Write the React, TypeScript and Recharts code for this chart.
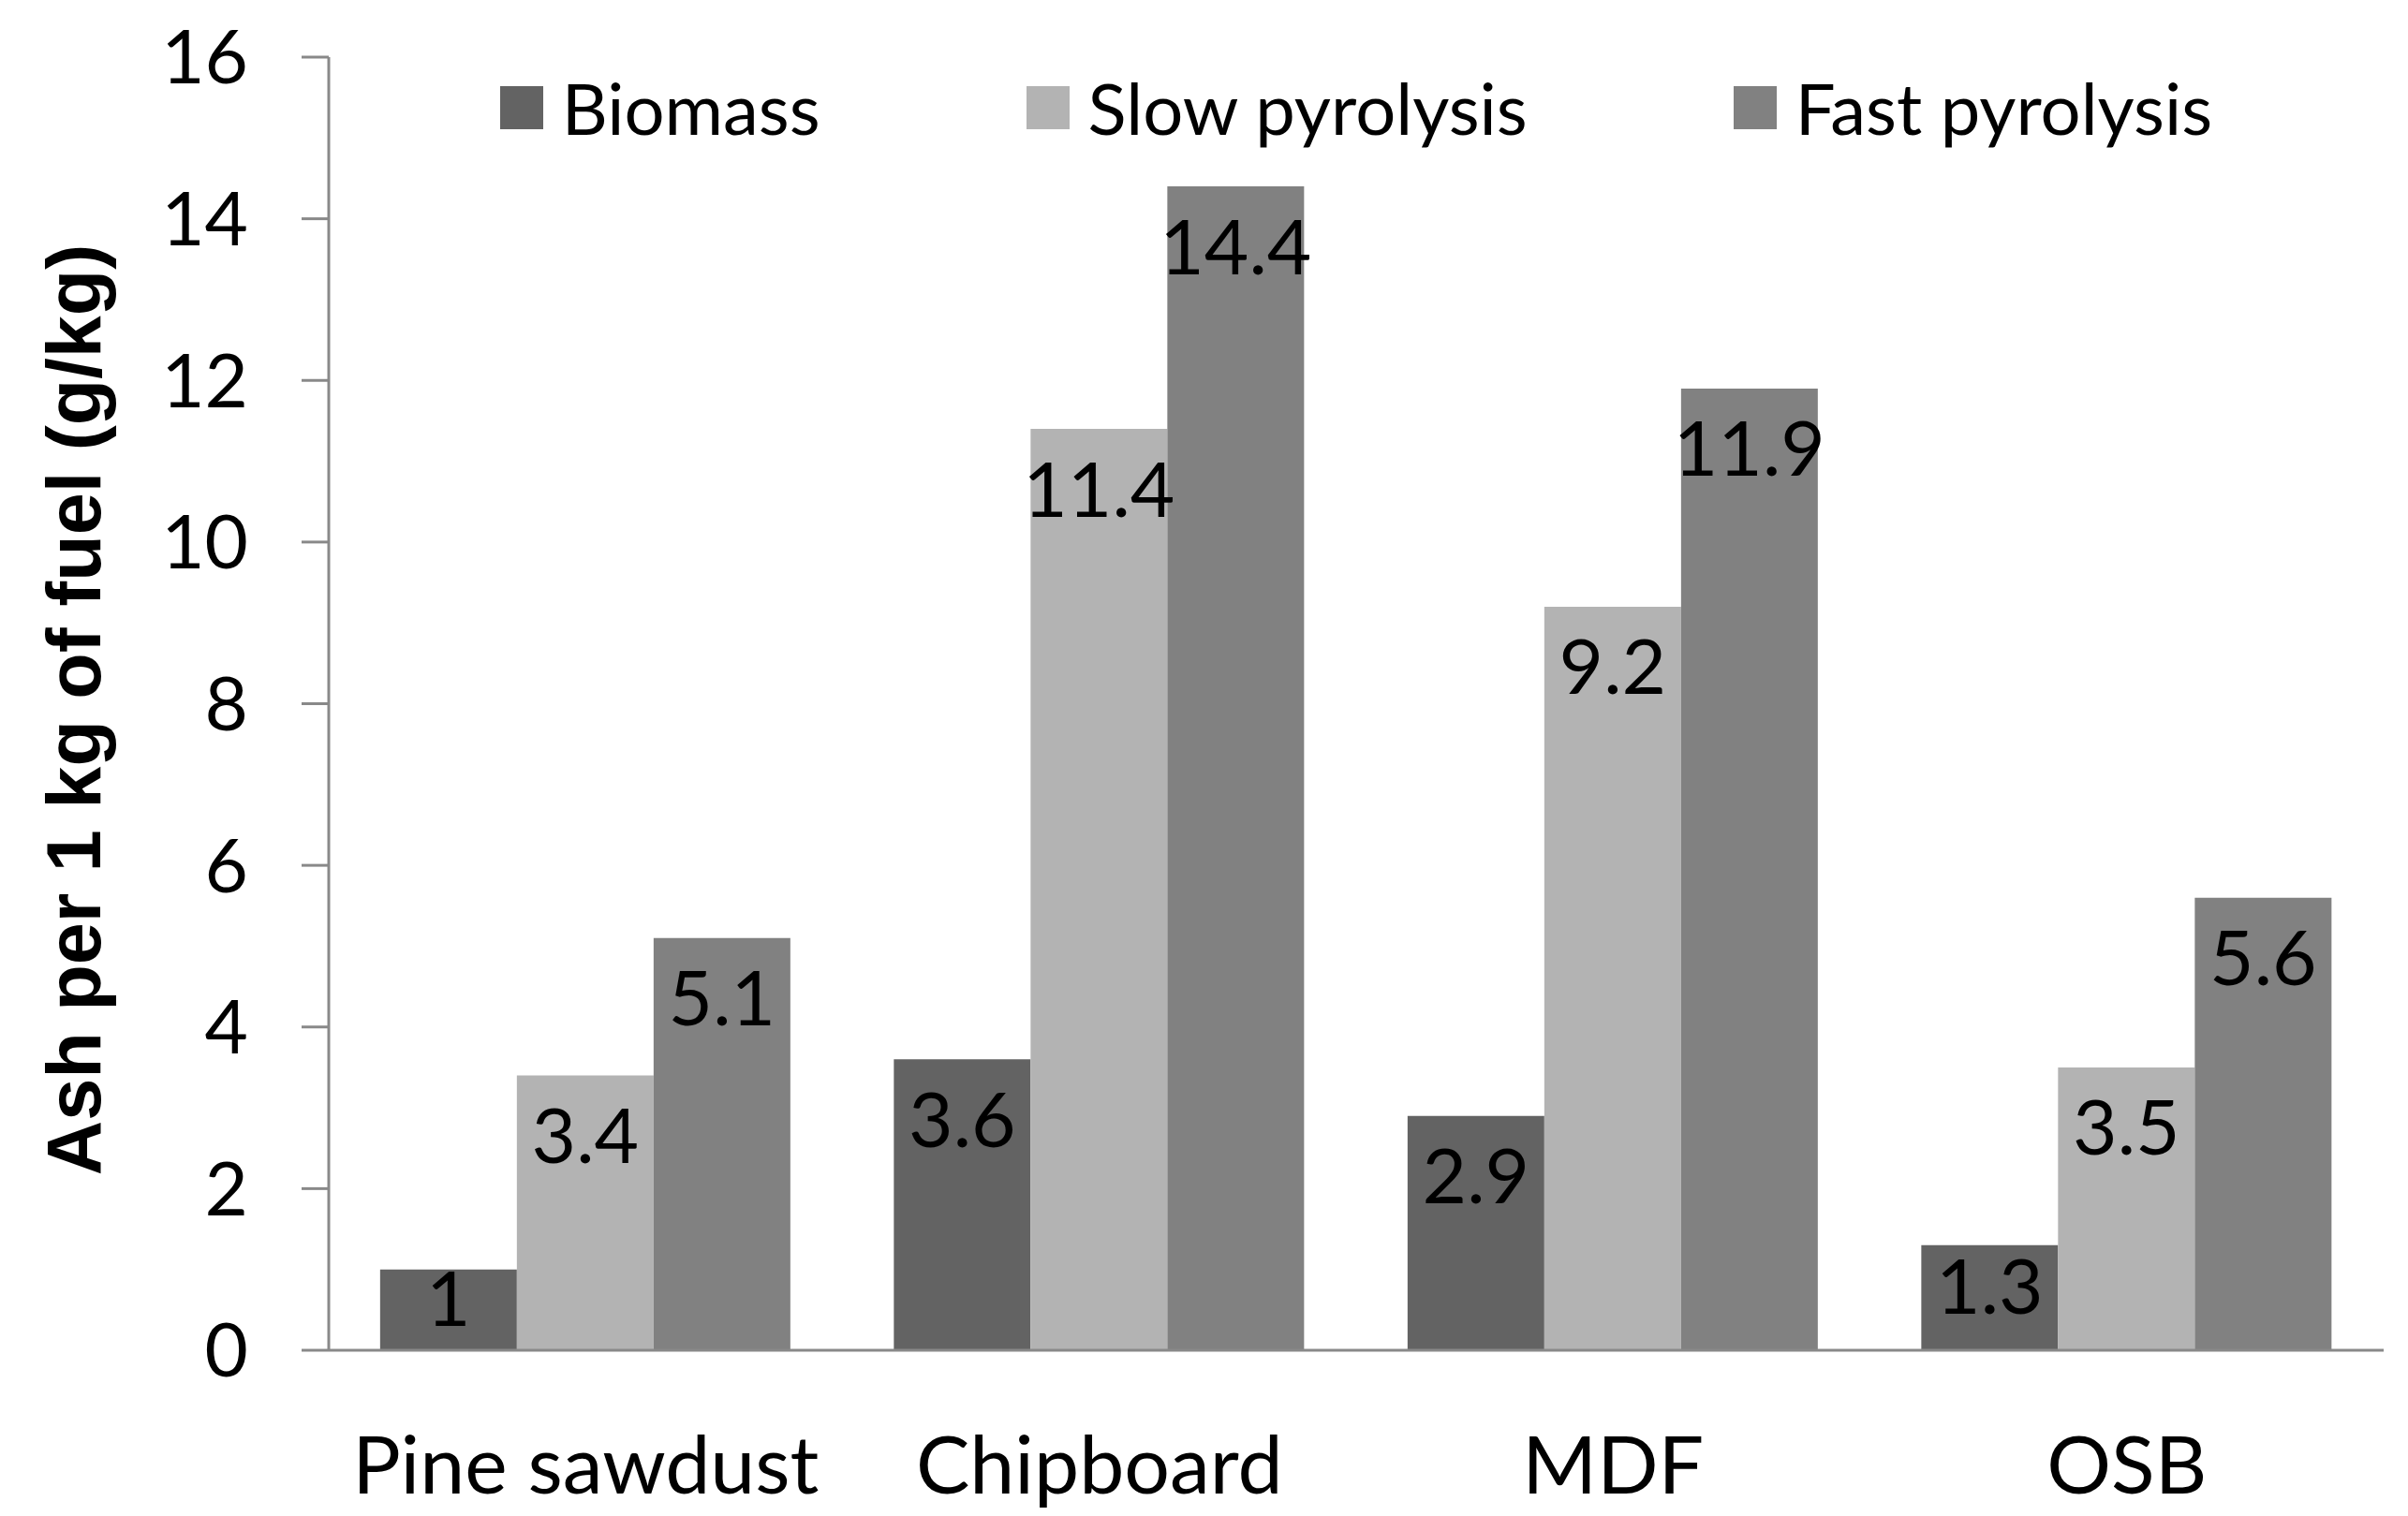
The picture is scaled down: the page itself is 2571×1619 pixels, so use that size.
import React from "react";
import { BarChart, Bar, XAxis, YAxis, Legend, LabelList } from "recharts";

const categories = ["Pine sawdust", "Chipboard", "MDF", "OSB"];
const biomass = [1, 3.6, 2.9, 1.3];
const slowPyrolysis = [3.4, 11.4, 9.2, 3.5];
const fastPyrolysis = [5.1, 14.4, 11.9, 5.6];
const yTicks = [0, 2, 4, 6, 8, 10, 12, 14, 16];

const seriesNames = ["Biomass", "Slow pyrolysis", "Fast pyrolysis"];
const seriesKeys = ["biomass", "slow", "fast"];
const seriesColors = ["#636363", "#b3b3b3", "#818181"];

const data = categories.map((c, i) => ({
  name: c,
  biomass: biomass[i],
  slow: slowPyrolysis[i],
  fast: fastPyrolysis[i],
}));

const FONT = "Lato, 'Open Sans', 'Liberation Sans', sans-serif";
const AXIS_COLOR = "#898989";
const LABEL_FS = 82;

const BarValueLabel = (props: any) => {
  const { x, y, width, height, value } = props;
  const cy = Math.min(y + 64, y + height / 2 - 12);
  return (
    <text
      x={x + width / 2}
      y={cy + 0.36 * LABEL_FS}
      textAnchor="middle"
      fontSize={LABEL_FS}
      fontFamily={FONT}
      fill="#000"
    >
      {value}
    </text>
  );
};

const LegendContent = () => (
  <div
    style={{
      display: "flex",
      justifyContent: "center",
      alignItems: "center",
      gap: 220,
      fontFamily: FONT,
      fontSize: 76,
      lineHeight: "60px",
      color: "#000",
      whiteSpace: "nowrap",
    }}
  >
    {seriesNames.map((n, i) => (
      <div key={n} style={{ display: "flex", alignItems: "center" }}>
        <span
          style={{
            display: "inline-block",
            width: 46,
            height: 46,
            background: seriesColors[i],
            marginRight: 20,
          }}
        />
        <span>{n}</span>
      </div>
    ))}
  </div>
);

const YTitle = (props: any) => {
  const vb = props.viewBox || { x: 0, y: 0, width: 0, height: 0 };
  const x = vb.x + 107;
  const y = 758;
  return (
    <text
      x={x}
      y={y}
      transform={`rotate(-90, ${x}, ${y})`}
      textAnchor="middle"
      fontSize={81}
      fontWeight="bold"
      fontFamily="'Liberation Sans', Arial, sans-serif"
      fill="#000"
    >
      Ash per 1 kg of fuel (g/kg)
    </text>
  );
};

export default function App() {
  return (
    <div style={{ position: "absolute", left: 0, top: 0, background: "#fff" }}>
      <BarChart
        width={2571}
        height={1619}
        data={data}
        margin={{ top: 61, right: 26, left: 0, bottom: 0 }}
        barCategoryGap="10%"
        barGap={0}
        style={{ fontFamily: FONT }}
      >
        <XAxis
          dataKey="name"
          height={177}
          tickLine={false}
          tickSize={0}
          tickMargin={92}
          axisLine={{ stroke: AXIS_COLOR, strokeWidth: 3 }}
          tick={{ fontSize: 86, fill: "#000", fontFamily: FONT }}
          interval={0}
        />
        <YAxis
          width={351}
          domain={[0, 16]}
          ticks={yTicks}
          interval={0}
          tickSize={29}
          tickMargin={57}
          axisLine={{ stroke: AXIS_COLOR, strokeWidth: 3 }}
          tickLine={{ stroke: AXIS_COLOR, strokeWidth: 3 }}
          tick={{ fontSize: 80, fill: "#000", fontFamily: FONT }}
          label={<YTitle />}
        />
        <Legend
          layout="horizontal"
          verticalAlign="middle"
          align="center"
          wrapperStyle={{ top: 85, left: 351, width: 2194 }}
          content={<LegendContent />}
        />
        {seriesKeys.map((k, i) => (
          <Bar
            key={k}
            dataKey={k}
            name={seriesNames[i]}
            fill={seriesColors[i]}
            isAnimationActive={false}
          >
            <LabelList dataKey={k} content={<BarValueLabel />} />
          </Bar>
        ))}
      </BarChart>
    </div>
  );
}
